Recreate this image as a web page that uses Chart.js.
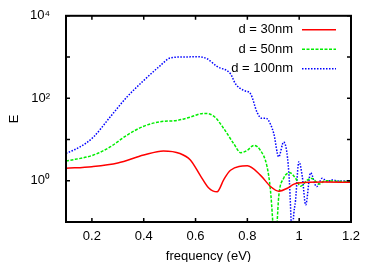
<!DOCTYPE html>
<html>
<head>
<meta charset="utf-8">
<script src="https://cdn.jsdelivr.net/npm/chart.js@4.4.0/dist/chart.umd.min.js"></script>
<style>
html, body { margin: 0; padding: 0; background: #fff; }
</style>
</head>
<body>
<canvas id="c" width="374" height="262"></canvas>
<script>
// values (log y)
const labels = ['d = 30nm', 'd = 50nm', 'd = 100nm'];

const freq30 = [0.10, 0.20, 0.30, 0.40, 0.476, 0.54, 0.58, 0.618, 0.65, 0.683, 0.71, 0.735, 0.80, 0.85, 0.89, 0.921, 0.954, 0.98, 1.02, 1.10, 1.20];
const e30    = [2.0, 2.2, 2.7, 4.2, 5.3, 4.6, 3.2, 1.35, 0.68, 0.54, 1.1, 1.8, 2.3, 1.37, 0.72, 0.56, 0.66, 0.83, 0.91, 0.93, 0.92];

const freq50 = [0.10, 0.206, 0.27, 0.335, 0.40, 0.464, 0.528, 0.58, 0.631, 0.67, 0.709, 0.747, 0.775, 0.80, 0.825, 0.85, 0.876, 0.889, 0.898, 0.906, 0.915, 0.921, 0.94, 0.964, 0.986, 1.005, 1.031, 1.05, 1.076, 1.10, 1.15, 1.20];
const e50    = [3.0, 4.2, 6.6, 12.7, 21, 27, 29, 35, 43, 37, 18.5, 8, 4.8, 5.5, 7.2, 5.5, 2.2, 0.6, 0.1, 0.01, 0.1, 0.41, 1.15, 1.56, 1.15, 0.74, 1.04, 1.14, 0.83, 1.0, 0.97, 0.96];

const freq100 = [0.10, 0.154, 0.206, 0.27, 0.335, 0.40, 0.464, 0.502, 0.54, 0.58, 0.606, 0.644, 0.683, 0.735, 0.754, 0.786, 0.812, 0.838, 0.855, 0.87, 0.88, 0.902, 0.921, 0.94, 0.96, 0.969, 0.973, 0.977, 0.986, 0.999, 1.012, 1.025, 1.044, 1.067, 1.089, 1.109, 1.128, 1.15, 1.20];
const e100    = [4.6, 6.6, 11.5, 35, 107, 270, 620, 950, 1000, 1010, 1020, 910, 590, 390, 225, 155, 129, 45, 33, 33, 30, 14, 3.8, 8.7, 1.6, 0.1, 0.02, 0.1, 0.34, 2.9, 1.26, 0.26, 1.56, 0.72, 1.15, 0.95, 1.05, 0.98, 1.0];

const xTicks = [0.2, 0.4, 0.6, 0.8, 1.0, 1.2];
const yTicks = [0.1, 1, 10, 100, 1000, 10000];
const yTickLabels = { 1: '10\u2070', 100: '10\u00b2', 10000: '10\u2074' };

const FONT = "'Liberation Sans', Arial, Helvetica, sans-serif";

function pts(xs, ys) {
  return xs.map((x, i) => ({ x: x, y: ys[i] }));
}

const frame = {
  id: 'frame',
  afterDatasetsDraw(chart) {
    const { ctx, chartArea: a, scales: { x, y } } = chart;
    ctx.save();
    ctx.strokeStyle = '#000';
    ctx.lineWidth = 1.5;
    ctx.beginPath();
    xTicks.forEach(v => {
      const px = x.getPixelForValue(v);
      ctx.moveTo(px, a.bottom); ctx.lineTo(px, a.bottom - 4);
      ctx.moveTo(px, a.top); ctx.lineTo(px, a.top + 4);
    });
    yTicks.forEach(v => {
      const py = y.getPixelForValue(v);
      ctx.moveTo(a.left, py); ctx.lineTo(a.left + 4, py);
      ctx.moveTo(a.right, py); ctx.lineTo(a.right - 4, py);
    });
    ctx.stroke();
    ctx.lineWidth = 2;
    ctx.strokeRect(a.left, a.top, a.right - a.left, a.bottom - a.top);

    // key, top right inside the box
    ctx.font = '13px ' + FONT;
    ctx.fillStyle = '#000';
    ctx.textAlign = 'right';
    ctx.textBaseline = 'middle';
    chart.data.datasets.forEach((ds, i) => {
      const ly = a.top + 14 + i * 19.5;
      ctx.fillText(ds.label, a.right - 58, ly);
      ctx.strokeStyle = ds.borderColor;
      ctx.lineWidth = ds.borderWidth;
      ctx.setLineDash(ds.borderDash || []);
      ctx.beginPath();
      ctx.moveTo(a.right - 49, ly);
      ctx.lineTo(a.right - 15, ly);
      ctx.stroke();
    });
    ctx.restore();
  }
};

new Chart(document.getElementById('c'), {
  type: 'line',
  data: {
    datasets: [
      { label: labels[0], data: pts(freq30, e30), borderColor: '#ff0000', borderWidth: 1.5 },
      { label: labels[1], data: pts(freq50, e50), borderColor: '#00ee00', borderWidth: 1.5, borderDash: [3, 1.5] },
      { label: labels[2], data: pts(freq100, e100), borderColor: '#0000ff', borderWidth: 1.5, borderDash: [1.5, 1.5] }
    ]
  },
  options: {
    responsive: false,
    animation: false,
    devicePixelRatio: 1,
    layout: { padding: { top: 15, right: 23, left: 0, bottom: 0 } },
    elements: {
      point: { radius: 0 },
      line: { cubicInterpolationMode: 'monotone', fill: false }
    },
    plugins: {
      legend: { display: false },
      tooltip: { enabled: false }
    },
    scales: {
      x: {
        type: 'linear',
        min: 0.1,
        max: 1.2,
        afterBuildTicks: s => { s.ticks = xTicks.map(v => ({ value: v })); },
        afterFit: s => { s.height = 40; },
        grid: { display: false },
        border: { display: false },
        ticks: {
          color: '#000',
          font: { family: FONT, size: 13 },
          padding: -1,
          maxRotation: 0,
          callback: v => (v === 1 ? '1' : v.toFixed(1))
        },
        title: {
          display: true,
          text: 'frequency (eV)',
          color: '#000',
          font: { family: FONT, size: 13 },
          padding: { top: 0, bottom: -2 }
        }
      },
      y: {
        type: 'logarithmic',
        min: 0.1,
        max: 10000,
        afterBuildTicks: s => { s.ticks = yTicks.map(v => ({ value: v })); },
        afterFit: s => { s.width = 66; },
        grid: { display: false },
        border: { display: false },
        ticks: {
          color: '#000',
          font: { family: FONT, size: 13 },
          padding: 8,
          autoSkip: false,
          callback: v => yTickLabels[v] || ''
        },
        title: {
          display: true,
          text: 'E',
          color: '#000',
          font: { family: FONT, size: 13 },
          padding: { top: 7, bottom: 0 }
        }
      }
    }
  },
  plugins: [frame]
});
</script>
</body>
</html>
